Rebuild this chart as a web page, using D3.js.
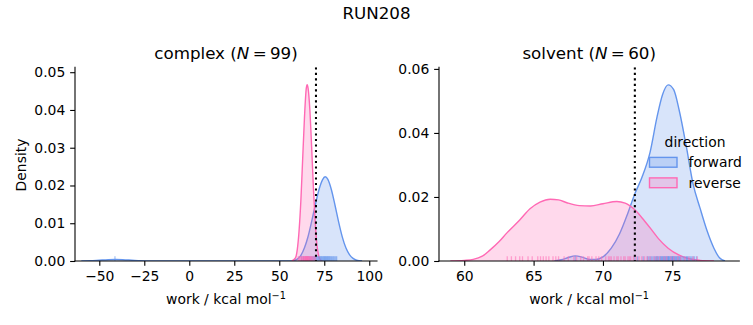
<!DOCTYPE html>
<html><head><meta charset="utf-8">
<script src="https://cdn.jsdelivr.net/npm/d3@7"></script>
<style>
body{margin:0;background:#fff;}
svg{display:block;font-family:"DejaVu Sans",sans-serif;}
</style></head><body>
<svg id="chart" width="753" height="325"></svg>
<script>
// ---------------- data ----------------
const suptitle = "RUN208";
const directions = ["forward", "reverse"];
const colors = {forward: "#6495ED", reverse: "#FF69B4"};

// complex panel
const complexN = 99;
const complexXTicks = [-50, -25, 0, 25, 50, 75, 100];
const complexYTicks = [0, 0.01, 0.02, 0.03, 0.04, 0.05];
const complexEstimate = 70.4;
const complexForwardX = [-60, -55, -50, -45, -41, -37, -32, -27, -22, 56, 58, 60, 62, 64, 66, 68, 70, 72, 74, 75.5, 77, 79, 81, 83, 85, 87, 89, 91, 93, 96];
const complexForwardY = [0, 0.00005, 0.0002, 0.00035, 0.0004, 0.00035, 0.0002, 0.00005, 0, 0, 0.0001, 0.0005, 0.0015, 0.0035, 0.0065, 0.0105, 0.0148, 0.0188, 0.0215, 0.0223, 0.0216, 0.0188, 0.0147, 0.0103, 0.0064, 0.0035, 0.0017, 0.0007, 0.0002, 0];
const complexReverseX = [57, 59, 60, 61, 62, 63, 64, 65, 65.5, 66, 67, 68, 69, 70, 71, 72, 73, 74];
const complexReverseY = [0, 0.0008, 0.003, 0.008, 0.016, 0.027, 0.038, 0.0457, 0.0467, 0.0458, 0.040, 0.030, 0.019, 0.010, 0.004, 0.0012, 0.0002, 0];
const complexForwardRug = [-41.3, 62.4, 63.5, 64.8, 65.9, 66.7, 67.5, 68.2, 68.9, 69.5, 70.1, 70.6, 71.2, 71.7, 72.1, 72.6, 73.0, 73.4, 73.8, 74.2, 74.6, 75.0, 75.3, 75.7, 76.0, 76.4, 76.8, 77.1, 77.5, 77.9, 78.3, 78.8, 79.2, 79.7, 80.2, 80.8, 81.4, 81.9];
const complexReverseRug = [60.6, 61.2, 61.8, 62.3, 62.7, 63.1, 63.4, 63.7, 64.0, 64.2, 64.5, 64.7, 64.9, 65.1, 65.3, 65.5, 65.7, 65.9, 66.1, 66.3, 66.6, 66.9, 67.2, 67.5, 67.9, 68.3, 68.8, 69.4, 70.1];

// solvent panel
const solventN = 60;
const solventXTicks = [60, 65, 70, 75];
const solventYTicks = [0, 0.02, 0.04, 0.06];
const solventEstimate = 72.3;
const solventForwardX = [66.5, 67.0, 67.5, 68.0, 68.5, 69.0, 69.5, 70.0, 70.6, 71.2, 71.8, 72.3, 72.8, 73.4, 73.9, 74.3, 74.7, 75.1, 75.5, 76.0, 76.5, 77.0, 77.5, 78.0, 78.4, 78.8];
const solventForwardY = [0, 0.0004, 0.0011, 0.0016, 0.0012, 0.0005, 0.0005, 0.0013, 0.0040, 0.0085, 0.0150, 0.0210, 0.0260, 0.0340, 0.0450, 0.0520, 0.0550, 0.0535, 0.0470, 0.0360, 0.0240, 0.0165, 0.0095, 0.0040, 0.0010, 0];
const solventReverseX = [59.0, 60.0, 60.65, 61.3, 61.85, 62.5, 63.06, 64.0, 64.74, 65.46, 66.2, 66.8, 67.4, 68.3, 69.1, 70.0, 71.0, 71.6, 72.3, 73.0, 73.5, 74.0, 74.7, 75.5, 76.2, 77.0, 78.0];
const solventReverseY = [0, 0.0002, 0.0005, 0.0015, 0.0034, 0.006, 0.0087, 0.0128, 0.0163, 0.0184, 0.0193, 0.0191, 0.0182, 0.0173, 0.0172, 0.0179, 0.0186, 0.0181, 0.0160, 0.0125, 0.0098, 0.0070, 0.0040, 0.0018, 0.0007, 0.0002, 0];
const solventForwardRug = [68.0, 72.3, 72.5, 72.9, 73.2, 73.3, 73.4, 73.5, 73.6, 73.7, 73.8, 73.85, 73.9, 73.95, 74.0, 74.1, 74.15, 74.2, 74.25, 74.3, 74.35, 74.4, 74.45, 74.5, 74.55, 74.6, 74.65, 74.7, 74.72, 74.75, 74.8, 74.85, 74.9, 74.95, 75.0, 75.02, 75.05, 75.1, 75.15, 75.2, 75.25, 75.3, 75.35, 75.4, 75.45, 75.5, 75.55, 75.6, 75.7, 75.8, 75.9, 76.0, 76.05, 76.1, 76.2, 76.3, 76.4, 76.5, 76.6, 76.75];
const solventReverseRug = [63.1, 63.4, 63.7, 64.0, 64.2, 64.6, 64.9, 65.3, 65.5, 65.7, 65.9, 66.1, 66.4, 66.6, 66.8, 67.2, 67.5, 67.9, 68.1, 68.4, 68.6, 68.9, 69.0, 69.2, 69.5, 69.7, 69.9, 70.2, 70.4, 70.5, 70.6, 70.8, 71.0, 71.1, 71.3, 71.5, 71.6, 71.8, 71.9, 72.0, 72.2, 72.4, 72.6, 72.8, 73.0, 73.2, 73.4, 73.7, 73.9, 74.1, 74.4, 74.6, 74.9, 75.1, 75.4, 75.6, 75.9, 76.2, 76.5, 76.8];

// ---------------- drawing ----------------
const svg = d3.select("#chart");
const FS = 13.9, TFS = 16.7;

svg.append("text").attr("x", 376.5).attr("y", 19).attr("text-anchor", "middle")
  .attr("font-size", TFS).text(suptitle);

function panel(opt) {
  const x = d3.scaleLinear().domain(opt.xDomain).range([opt.left, opt.right]);
  const y = d3.scaleLinear().domain(opt.yDomain).range([261, 67.3]);
  const g = svg.append("g");
  const cx = (opt.left + opt.right) / 2;

  const area = d3.area().x(d => x(d[0])).y0(y(0)).y1(d => y(d[1])).curve(d3.curveMonotoneX);
  const line = d3.line().x(d => x(d[0])).y(d => y(d[1])).curve(d3.curveMonotoneX);
  const clipId = "clip" + opt.name;
  svg.append("clipPath").attr("id", clipId).append("rect")
    .attr("x", opt.left).attr("y", 67.3).attr("width", opt.right - opt.left).attr("height", 261 - 67.3);
  const plot = g.append("g").attr("clip-path", `url(#${clipId})`);

  opt.series.forEach(s => {
    const pts = s.xs.map((v, i) => [v, s.ys[i]]);
    plot.append("path").attr("d", area(pts)).attr("fill", colors[s.dir]).attr("fill-opacity", 0.25);
    plot.append("path").attr("d", line(pts)).attr("fill", "none").attr("stroke", colors[s.dir]).attr("stroke-width", 1.4);
  });
  opt.series.forEach(s => {
    plot.selectAll(null).data(s.rug).enter().append("line")
      .attr("x1", d => x(d)).attr("x2", d => x(d))
      .attr("y1", 261).attr("y2", 261 - 0.025 * (261 - 67.3))
      .attr("stroke", colors[s.dir]).attr("stroke-width", 1.3).attr("stroke-opacity", 0.55);
  });
  plot.append("line").attr("x1", x(opt.estimate)).attr("x2", x(opt.estimate))
    .attr("y1", 67.3).attr("y2", 261).attr("stroke", "#000").attr("stroke-width", 2.08)
    .attr("stroke-dasharray", "2.08,3.43");

  // axes
  const xAxis = d3.axisBottom(x).tickValues(opt.xTicks).tickSize(4.86).tickPadding(3.5)
    .tickFormat(d => d < 0 ? "\u2212" + Math.abs(d) : String(d));
  const gx = g.append("g").attr("transform", "translate(0,261)").call(xAxis);
  const yAxis = d3.axisLeft(y).tickValues(opt.yTicks).tickSize(4.86).tickPadding(4.86)
    .tickFormat(opt.yFormat);
  const gy = g.append("g").attr("transform", `translate(${opt.left},0)`).call(yAxis);
  [gx, gy].forEach(a => {
    a.select(".domain").attr("stroke-width", 1.1).attr("d", null);
    a.selectAll(".tick line").attr("stroke-width", 1.1);
    a.selectAll("text").attr("font-size", FS).attr("font-family", "DejaVu Sans").attr("fill", "#000");
  });
  gx.select(".domain").remove();
  gy.select(".domain").remove();
  g.append("line").attr("x1", opt.left).attr("x2", opt.right).attr("y1", 261).attr("y2", 261)
    .attr("stroke", "#000").attr("stroke-width", 1.1).attr("stroke-linecap", "square");
  g.append("line").attr("x1", opt.left).attr("x2", opt.left).attr("y1", 67.3).attr("y2", 261)
    .attr("stroke", "#000").attr("stroke-width", 1.1).attr("stroke-linecap", "square");
  gx.selectAll(".tick text").attr("dy", null).attr("y", 9.7).attr("dominant-baseline", "hanging");

  // title
  const t = g.append("text").attr("x", cx).attr("y", 59).attr("text-anchor", "middle").attr("font-size", TFS);
  t.append("tspan").text(opt.name + " (");
  t.append("tspan").attr("font-style", "italic").text("N");
  t.append("tspan").text("\u2009=\u2009" + opt.N + ")");

  // x label
  const xl = g.append("text").attr("x", cx).attr("y", 304).attr("text-anchor", "middle").attr("font-size", FS);
  xl.append("tspan").text("work / kcal mol");
  xl.append("tspan").attr("font-size", FS * 0.7).attr("dy", -5.5).text("\u22121");
  return {x, y, g};
}

panel({name: "complex", N: complexN, left: 75, right: 377, xDomain: [-63.5, 104.3], yDomain: [0, 0.0513],
  xTicks: complexXTicks, yTicks: complexYTicks, yFormat: d3.format(".2f"), estimate: complexEstimate,
  series: [
    {dir: "forward", xs: complexForwardX, ys: complexForwardY, rug: complexForwardRug},
    {dir: "reverse", xs: complexReverseX, ys: complexReverseY, rug: complexReverseRug}
  ]});
panel({name: "solvent", N: solventN, left: 439, right: 739.3, xDomain: [58.18, 79.83], yDomain: [0, 0.0605],
  xTicks: solventXTicks, yTicks: solventYTicks, yFormat: d3.format(".2f"), estimate: solventEstimate,
  series: [
    {dir: "forward", xs: solventForwardX, ys: solventForwardY, rug: solventForwardRug},
    {dir: "reverse", xs: solventReverseX, ys: solventReverseY, rug: solventReverseRug}
  ]});

// y label
svg.append("text").attr("transform", "translate(26,165) rotate(-90)").attr("text-anchor", "middle")
  .attr("font-size", FS).text("Density");

// legend
const lg = svg.append("g");
lg.append("text").attr("x", 695).attr("y", 146.5).attr("text-anchor", "middle").attr("font-size", FS).text("direction");
directions.forEach((d, i) => {
  const yc = 162.3 + i * 20.5;
  lg.append("rect").attr("x", 649.5).attr("y", yc - 4.9).attr("width", 27.5).attr("height", 9.8)
    .attr("fill", colors[d]).attr("fill-opacity", 0.25).attr("stroke", colors[d]).attr("stroke-width", 1.4);
  lg.append("text").attr("x", 688.5).attr("y", yc + 5).attr("font-size", FS).text(d);
});
</script>
</body></html>
